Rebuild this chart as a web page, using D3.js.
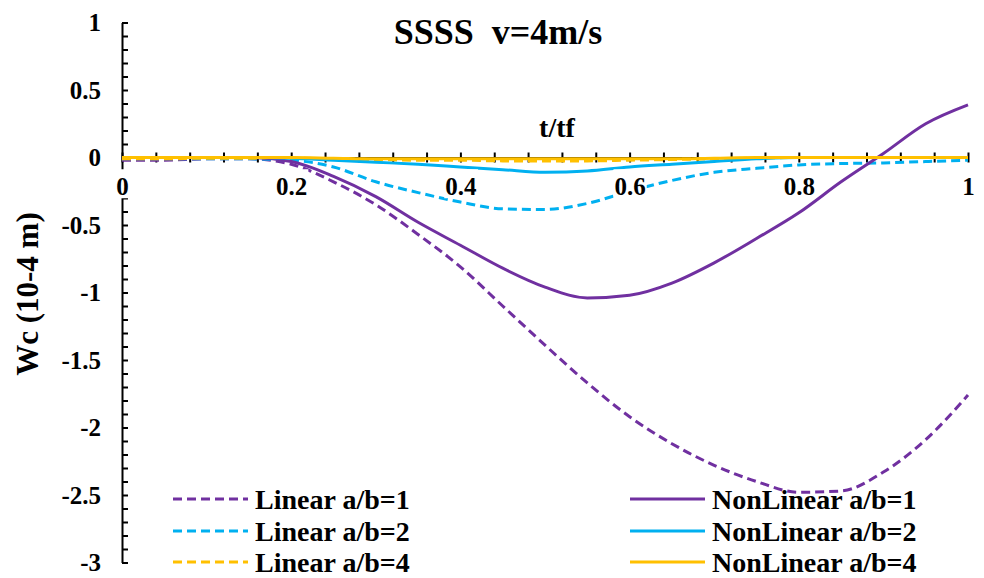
<!DOCTYPE html>
<html>
<head>
<meta charset="utf-8">
<title>SSSS v=4m/s</title>
<style>
  body { margin: 0; background: #ffffff; }
  svg text { font-weight: bold; fill: #000; }
</style>
<script src="https://d3js.org/d3.v7.min.js"></script>
</head>
<body>
<svg width="984" height="578"></svg>
<script>
// time fraction t/tf
var tValues = [0, 0.05, 0.1, 0.15, 0.2, 0.25, 0.3, 0.35, 0.4, 0.45, 0.5,
               0.55, 0.6, 0.65, 0.7, 0.75, 0.8, 0.85, 0.9, 0.95, 1];

// Wc (10-4 m)
var linear1    = [-0.02, -0.02, -0.01, -0.01, -0.05, -0.18, -0.35, -0.57, -0.81, -1.10, -1.39,
                  -1.67, -1.92, -2.12, -2.28, -2.40, -2.48, -2.47, -2.33, -2.09, -1.76];
var nonlinear1 = [0, 0, 0, 0, -0.03, -0.14, -0.29, -0.48, -0.65, -0.82, -0.96,
                  -1.04, -1.02, -0.93, -0.78, -0.60, -0.41, -0.18, 0.03, 0.25, 0.39];
var linear2    = [-0.01, -0.01, -0.01, -0.01, -0.02, -0.07, -0.18, -0.26, -0.33, -0.38, -0.385,
                  -0.34, -0.25, -0.17, -0.11, -0.08, -0.055, -0.045, -0.04, -0.03, -0.02];
var nonlinear2 = [0, 0, 0, 0, -0.005, -0.02, -0.035, -0.05, -0.07, -0.09, -0.11,
                  -0.10, -0.07, -0.05, -0.03, -0.01, 0, 0, 0, 0, 0];
var linear4    = [-0.01, -0.01, -0.005, -0.005, -0.005, -0.01, -0.015, -0.02, -0.02, -0.025, -0.025,
                  -0.025, -0.02, -0.015, -0.01, -0.005, 0, 0, 0, 0, 0];
var nonlinear4 = [0, 0, 0, 0, 0, -0.005, -0.01, -0.01, -0.01, -0.01, -0.01,
                  -0.01, -0.01, -0.01, -0.005, 0, 0, 0, 0, 0, 0];

var xMajorTicks = [0, 0.2, 0.4, 0.6, 0.8, 1];
var yMajorTicks = [1, 0.5, 0, -0.5, -1, -1.5, -2, -2.5, -3];

var seriesNames  = ["Linear a/b=1", "Linear a/b=2", "Linear a/b=4",
                    "NonLinear a/b=1", "NonLinear a/b=2", "NonLinear a/b=4"];
var seriesValues = [linear1, linear2, linear4, nonlinear1, nonlinear2, nonlinear4];
var seriesColors = ["#7030A0", "#00B0F0", "#FFC000", "#7030A0", "#00B0F0", "#FFC000"];
var seriesDashed = [true, true, true, false, false, false];

var FONT = "'Liberation Serif', 'Times New Roman', 'DejaVu Serif', serif";

var svg = d3.select("svg");

var x = d3.scaleLinear().domain([0, 1]).range([122, 968]);
var y = d3.scaleLinear().domain([-3, 1]).range([562.5, 22.5]);

// plain hyphen for negatives, like the original
var numFmt = function(d) { return String(d); };

// title
svg.append("text")
    .attr("x", 498).attr("y", 31).attr("dy", "0.35em")
    .style("text-anchor", "middle").style("font-size", "36px")
    .style("white-space", "pre")
    .text("SSSS  v=4m/s");

// y axis: line + inner minor ticks every 0.1
var yMinor = d3.range(-30, 11).map(function(d) { return d / 10; });
var gy = svg.append("g").attr("transform", "translate(" + x(0) + ",0)")
    .call(d3.axisRight(y).tickValues(yMinor).tickSize(6).tickSizeOuter(0).tickFormat(""));
gy.selectAll("path, line").attr("stroke", "#000").attr("stroke-width", 2);

var gyl = svg.append("g").attr("transform", "translate(" + x(0) + ",0)")
    .call(d3.axisLeft(y).tickValues(yMajorTicks).tickSize(0).tickPadding(21).tickFormat(numFmt));
gyl.select(".domain").remove();
gyl.selectAll("text").style("font-size", "25px");

var line = d3.line()
    .x(function(d, i) { return x(tValues[i]); })
    .y(function(d) { return y(d); })
    .curve(d3.curveMonotoneX);

// x axis: line at y=0 with ticks every 0.04 crossing the line
var xMinor = d3.range(0, 26).map(function(d) { return d * 0.04; });
var gx = svg.append("g").attr("transform", "translate(0," + y(0) + ")")
    .call(d3.axisBottom(x).tickValues(xMinor).tickSize(5).tickSizeOuter(0).tickFormat(""));
gx.selectAll(".tick line").attr("y1", -5).attr("y2", 5);
gx.selectAll("path, line").attr("stroke", "#000").attr("stroke-width", 2);

// series
svg.append("g").selectAll("path")
    .data(seriesValues)
    .enter().append("path")
      .attr("d", line)
      .attr("fill", "none")
      .attr("stroke", function(d, i) { return seriesColors[i]; })
      .attr("stroke-width", 3)
      .attr("stroke-dasharray", function(d, i) { return seriesDashed[i] ? "9,5" : null; });

// x tick labels with white boxes behind them
var gxl = svg.append("g").attr("transform", "translate(0," + y(0) + ")")
    .call(d3.axisBottom(x).tickValues(xMajorTicks).tickSize(0).tickPadding(20).tickFormat(numFmt));
gxl.select(".domain").remove();
gxl.selectAll("text").style("font-size", "25px").style("font-family", FONT);
gxl.selectAll(".tick").each(function() {
  var t = d3.select(this).select("text");
  var b = t.node().getBBox();
  d3.select(this).insert("rect", "text")
    .attr("x", b.x - 1).attr("y", b.y - 4)
    .attr("width", b.width + 2).attr("height", b.height + 2)
    .attr("fill", "#fff");
});

// axis titles
svg.append("text")
    .attr("x", 557).attr("y", 127).attr("dy", "0.35em")
    .style("text-anchor", "middle").style("font-size", "28px")
    .text("t/tf");

svg.append("text")
    .attr("transform", "translate(27,294) rotate(-90)")
    .attr("dy", "0.35em")
    .style("text-anchor", "middle").style("font-size", "31px")
    .style("white-space", "pre")
    .text("Wc (10-4 m)");

// legend
var legendRows = [0, 1, 2, 0, 1, 2];
var legendCols = [0, 0, 0, 1, 1, 1];
var colX = [173, 630];
var rowY = [499, 531, 562];

var lg = svg.append("g").selectAll("g")
    .data(seriesNames)
    .enter().append("g")
      .attr("transform", function(d, i) {
        return "translate(" + colX[legendCols[i]] + "," + rowY[legendRows[i]] + ")";
      });
lg.append("line")
    .attr("x1", 0).attr("x2", 75)
    .attr("stroke", function(d, i) { return seriesColors[i]; })
    .attr("stroke-width", 3)
    .attr("stroke-dasharray", function(d, i) { return seriesDashed[i] ? "9,5" : null; });
lg.append("text")
    .attr("x", 82).attr("dy", "0.35em")
    .style("font-size", "28px")
    .text(function(d) { return d; });

svg.selectAll("text").style("font-family", FONT).style("font-weight", "bold");
</script>
</body>
</html>
